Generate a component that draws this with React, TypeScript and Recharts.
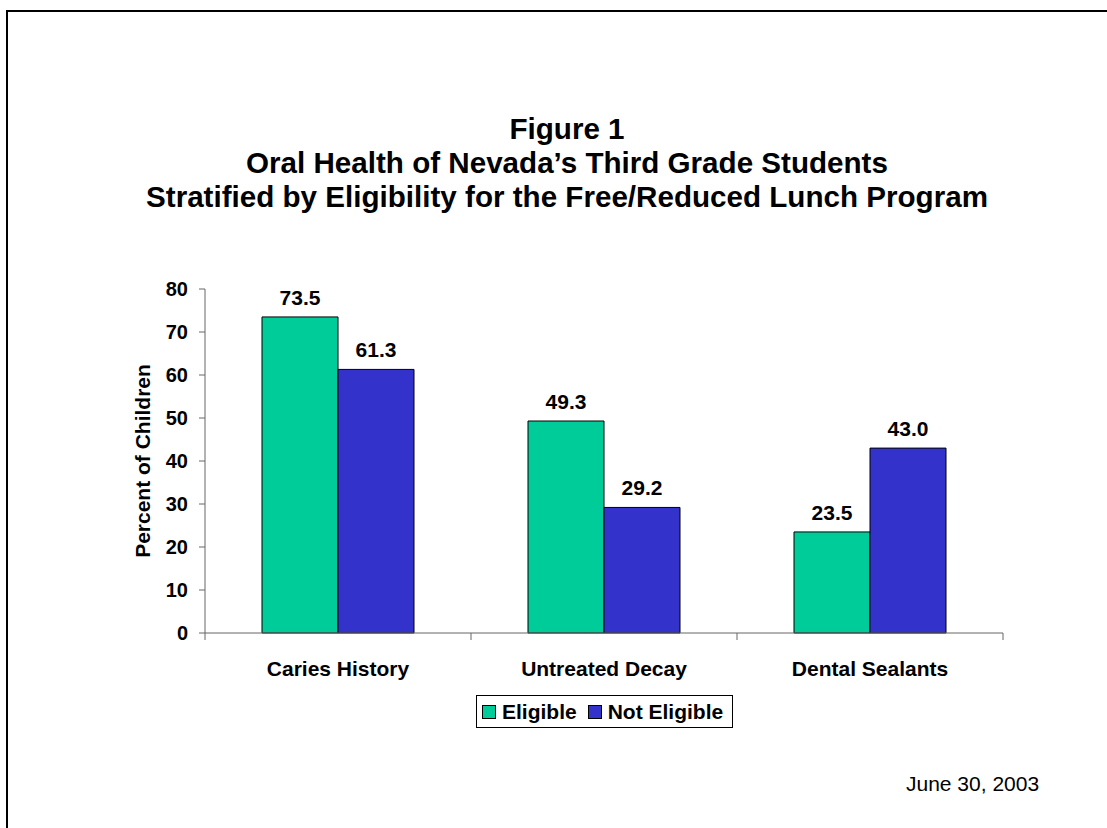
import React from "react";
import { Bar, BarChart, LabelList, Legend, XAxis, YAxis } from "recharts";

const categories = ["Caries History", "Untreated Decay", "Dental Sealants"];
const eligible = [73.5, 49.3, 23.5];
const notEligible = [61.3, 29.2, 43.0];
const yTicks = [0, 10, 20, 30, 40, 50, 60, 70, 80];
const seriesNames = ["Eligible", "Not Eligible"];
const seriesColors = ["#00CC99", "#3333CC"];
const titleLines = [
  "Figure 1",
  "Oral Health of Nevada\u2019s Third Grade Students",
  "Stratified by Eligibility for the Free/Reduced Lunch Program",
];

const data = categories.map((name, i) => ({
  name,
  eligible: eligible[i],
  notEligible: notEligible[i],
}));

const font = "'Liberation Sans', Arial, Helvetica, sans-serif";
const axisGray = "#666";

// category label plus tick marks on the band edges (Excel style)
function CategoryTick(props: any) {
  const { x, y, payload, index, visibleTicksCount } = props;
  const half = payload.offset || 0;
  const last = index === visibleTicksCount - 1;
  return (
    <g>
      <line x1={x - half} y1={y} x2={x - half} y2={y + 7} stroke={axisGray} />
      {last && <line x1={x + half} y1={y} x2={x + half} y2={y + 7} stroke={axisGray} />}
      <text
        x={x}
        y={y + 43}
        textAnchor="middle"
        fill="#000"
        fontSize={21}
        fontWeight="bold"
        fontFamily={font}
      >
        {payload.value}
      </text>
    </g>
  );
}

function LegendBox() {
  return (
    <div
      style={{
        display: "flex",
        alignItems: "center",
        height: 31,
        padding: "0 9px 0 5px",
        border: "1px solid #000",
        background: "#fff",
        fontFamily: font,
        fontWeight: "bold",
        fontSize: 21,
        color: "#000",
        whiteSpace: "nowrap",
      }}
    >
      {seriesNames.map((s, i) => (
        <span key={s} style={{ display: "flex", alignItems: "center", marginRight: i === 0 ? 11 : 0 }}>
          <span
            style={{
              display: "inline-block",
              width: 12,
              height: 12,
              background: seriesColors[i],
              border: "1px solid #000",
              marginRight: 6,
            }}
          />
          {s}
        </span>
      ))}
    </div>
  );
}

export default function App() {
  return (
    <div
      style={{
        position: "absolute",
        left: 0,
        top: 0,
        width: 1107,
        height: 828,
        overflow: "hidden",
        background: "#fff",
        fontFamily: font,
      }}
    >
      <div
        style={{
          position: "absolute",
          left: 6,
          top: 10,
          width: 1200,
          height: 900,
          borderLeft: "2px solid #000",
          borderTop: "2px solid #000",
        }}
      />
      <div
        style={{
          position: "absolute",
          left: 67,
          top: 112,
          width: 1000,
          textAlign: "center",
          fontWeight: "bold",
          fontSize: 29.6,
          lineHeight: "34px",
          color: "#000",
        }}
      >
        {titleLines.map((t) => (
          <div key={t}>{t}</div>
        ))}
      </div>
      <div style={{ position: "absolute", left: 0, top: 0 }}>
        <BarChart
          width={1107}
          height={828}
          data={data}
          margin={{ top: 289, right: 104, bottom: 135, left: 145 }}
          barGap={0}
          barSize={76}
        >
          <XAxis
            dataKey="name"
            height={60}
            interval={0}
            axisLine={{ stroke: axisGray }}
            tickLine={false}
            tickSize={0}
            tickMargin={0}
            tick={<CategoryTick />}
          />
          <YAxis
            domain={[0, 80]}
            ticks={yTicks}
            width={60}
            tickSize={6}
            tickMargin={11}
            axisLine={{ stroke: axisGray }}
            tickLine={{ stroke: axisGray }}
            tick={{ fill: "#000", fontSize: 20, fontWeight: "bold", fontFamily: font }}
            label={{
              value: "Percent of Children",
              angle: -90,
              position: "center",
              dx: -32,
              style: { fill: "#000", fontSize: 21, fontWeight: "bold", fontFamily: font },
            }}
          />
          <Legend
            layout="horizontal"
            verticalAlign="middle"
            align="center"
            content={() => <LegendBox />}
            wrapperStyle={{ left: 476, top: 695, width: "auto", height: "auto" }}
          />
          <Bar
            dataKey="eligible"
            name={seriesNames[0]}
            fill={seriesColors[0]}
            stroke="#000"
            strokeWidth={1}
            isAnimationActive={false}
          >
            <LabelList
              dataKey="eligible"
              position="top"
              offset={12}
              formatter={(v: number) => v.toFixed(1)}
              style={{ fill: "#000", fontSize: 21, fontWeight: "bold", fontFamily: font }}
            />
          </Bar>
          <Bar
            dataKey="notEligible"
            name={seriesNames[1]}
            fill={seriesColors[1]}
            stroke="#000"
            strokeWidth={1}
            isAnimationActive={false}
          >
            <LabelList
              dataKey="notEligible"
              position="top"
              offset={12}
              formatter={(v: number) => v.toFixed(1)}
              style={{ fill: "#000", fontSize: 21, fontWeight: "bold", fontFamily: font }}
            />
          </Bar>
        </BarChart>
      </div>
      <div
        style={{
          position: "absolute",
          left: 906,
          top: 772,
          fontSize: 21,
          lineHeight: "24px",
          color: "#000",
        }}
      >
        June 30, 2003
      </div>
    </div>
  );
}
